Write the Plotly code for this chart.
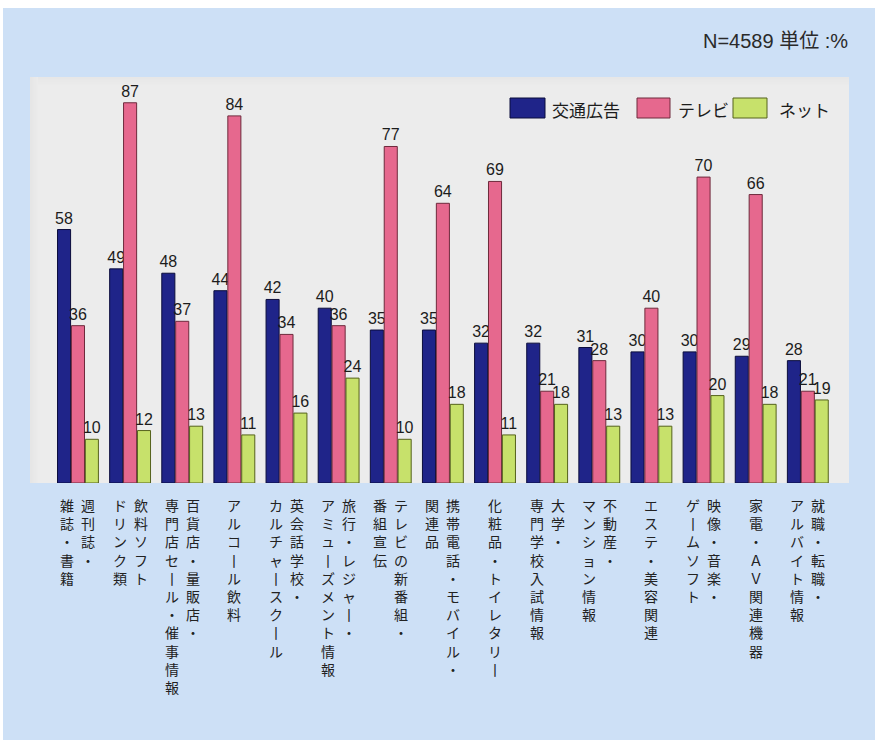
import plotly.graph_objects as go

# Category labels, written vertically: each tuple lists the columns from right to left
category_lines = [
    ("週刊誌・", "雑誌・書籍"),
    ("飲料ソフト", "ドリンク類"),
    ("百貨店・量販店・", "専門店セール・催事情報"),
    ("アルコール飲料",),
    ("英会話学校・", "カルチャースクール"),
    ("旅行・レジャー・", "アミューズメント情報"),
    ("テレビの新番組・", "番組宣伝"),
    ("携帯電話・モバイル・", "関連品"),
    ("化粧品・トイレタリー",),
    ("大学・", "専門学校入試情報"),
    ("不動産・", "マンション情報"),
    ("エステ・美容関連",),
    ("映像・音楽・", "ゲームソフト"),
    ("家電・ＡＶ関連機器",),
    ("就職・転職・", "アルバイト情報"),
]

series_names = ["交通広告", "テレビ", "ネット"]
transit_ads = [58, 49, 48, 44, 42, 40, 35, 35, 32, 32, 31, 30, 30, 29, 28]
television = [36, 87, 37, 84, 34, 36, 77, 64, 69, 21, 28, 40, 70, 66, 21]
internet = [10, 12, 13, 11, 16, 24, 10, 18, 11, 18, 13, 13, 20, 18, 19]

fills = ["#1f2489", "#e6688e", "#c7e16b"]
edges = ["#0b0d3c", "#6e2a3c", "#55621c"]

W, H = 875, 740
L, R, T, B = 30, 849, 77, 483  # plot area in pixels


def px_x(p):
    return (p - L) / (R - L)


def px_y(p):
    return (B - p) / (B - T)


def vertical(text):
    # stack characters top to bottom; the long-vowel mark turns upright
    return "<br>".join("丨" if ch == "ー" else ch for ch in text)


x_idx = list(range(len(category_lines)))
fig = go.Figure()
for name, vals, fc, ec in zip(series_names, [transit_ads, television, internet], fills, edges):
    fig.add_trace(go.Bar(
        x=x_idx, y=vals, name=name,
        marker=dict(color=fc, line=dict(color=ec, width=1)),
        text=[str(v) for v in vals], textposition="outside",
        textfont=dict(family="Liberation Sans, Arial, sans-serif", size=16, color="#1c1c1c"),
        constraintext="none", cliponaxis=False, showlegend=False,
    ))

shapes = []
# white margin strips along the top and left edges of the page
shapes.append(dict(type="rect", xref="paper", yref="paper", layer="below",
                   x0=px_x(-5), x1=px_x(W + 5), y0=px_y(8), y1=px_y(-5),
                   fillcolor="white", line=dict(width=0)))
shapes.append(dict(type="rect", xref="paper", yref="paper", layer="below",
                   x0=px_x(-5), x1=px_x(3), y0=px_y(H + 5), y1=px_y(-5),
                   fillcolor="white", line=dict(width=0)))
# soft inner shadow on the left and top of the plotting panel
for k in range(8):
    a = 0.05 * (8 - k) / 8
    shapes.append(dict(type="rect", xref="paper", yref="paper", layer="below",
                       x0=px_x(L + k), x1=px_x(L + k + 1), y0=0, y1=1,
                       fillcolor=f"rgba(120,120,120,{a:.3f})", line=dict(width=0)))
    shapes.append(dict(type="rect", xref="paper", yref="paper", layer="below",
                       x0=px_x(L + 8), x1=1, y0=px_y(T + k + 1), y1=px_y(T + k),
                       fillcolor=f"rgba(120,120,120,{a * 0.8:.3f})", line=dict(width=0)))

annotations = []
# legend: swatches and names
legend_items = [(510, 545, 550), (637, 670, 676), (733, 767, 777)]
for (sx0, sx1, tx), name, fc, ec in zip(legend_items, series_names, fills, edges):
    shapes.append(dict(type="rect", xref="paper", yref="paper",
                       x0=px_x(sx0), x1=px_x(sx1), y0=px_y(118), y1=px_y(98),
                       fillcolor=fc, line=dict(color=ec, width=1)))
    annotations.append(dict(xref="paper", yref="paper", x=px_x(tx), y=px_y(109),
                            xanchor="left", yanchor="middle", showarrow=False, text=name,
                            font=dict(family="Noto Sans CJK JP", size=17, color="#1c1c1c")))

annotations.append(dict(xref="paper", yref="paper", x=px_x(850), y=px_y(41),
                        xanchor="right", yanchor="middle", showarrow=False,
                        text="N=4589 単位 :%",
                        font=dict(family="Liberation Sans, Noto Sans CJK JP", size=20, color="#2a2a2a")))

# vertical category labels, one column annotation per line of text
for i, cols in enumerate(category_lines):
    offsets = [0] if len(cols) == 1 else [10.5, -10.5]
    for col, off in zip(cols, offsets):
        annotations.append(dict(
            x=i, xref="x", y=0, yref="paper", xanchor="center", yanchor="top",
            xshift=off, yshift=-10, showarrow=False, text=vertical(col), align="center",
            font=dict(family="Noto Sans CJK JP", size=14, color="#222222"),
        ))

fig.update_layout(
    width=W, height=H,
    margin=dict(l=L, r=W - R, t=T, b=H - B, pad=0),
    paper_bgcolor="#cde0f6",
    plot_bgcolor="#ececec",
    barmode="group", bargap=0.2, bargroupgap=0.06,
    xaxis=dict(range=[-0.92, 14.79], showticklabels=False, showgrid=False,
               zeroline=False, showline=False, ticks=""),
    yaxis=dict(range=[0, 92.9], showticklabels=False, showgrid=False,
               zeroline=False, showline=False, ticks=""),
    shapes=shapes, annotations=annotations,
    showlegend=False,
)

fig.write_html("out.html")
